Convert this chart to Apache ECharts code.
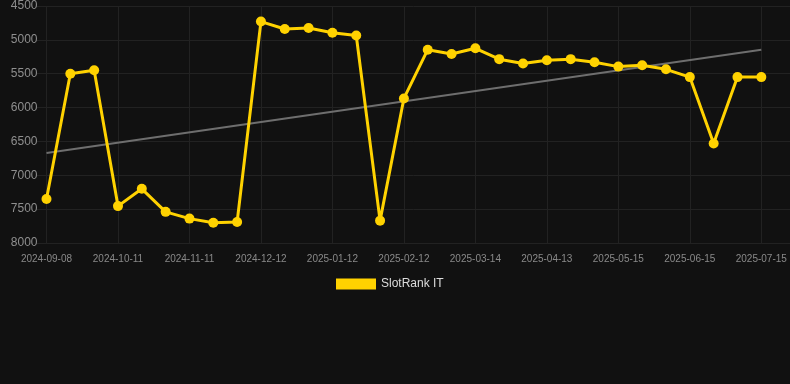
<!DOCTYPE html>
<html>
<head>
<meta charset="utf-8">
<script src="https://cdn.jsdelivr.net/npm/echarts@6/dist/echarts.min.js"></script>
<style>
  html, body { margin: 0; padding: 0; background: #111111; }
  #chart { width: 790px; height: 384px; }
</style>
</head>
<body>
<div id="chart"></div>
<script>
// dates of each rank reading (category axis, every 3rd labelled)
const dates = [
  "2024-09-08", "2024-09-19", "2024-09-30", "2024-10-11", "2024-10-21", "2024-10-31",
  "2024-11-11", "2024-11-21", "2024-12-01", "2024-12-12", "2024-12-22", "2025-01-01",
  "2025-01-12", "2025-01-22", "2025-02-01", "2025-02-12", "2025-02-22", "2025-03-04",
  "2025-03-14", "2025-03-24", "2025-04-03", "2025-04-13", "2025-04-24", "2025-05-04",
  "2025-05-15", "2025-05-25", "2025-06-04", "2025-06-15", "2025-06-25", "2025-07-05",
  "2025-07-15"
];
const rankIT = [
  7350, 5500, 5450, 7455, 7200, 7540, 7640, 7700, 7690, 4730, 4840, 4825,
  4895, 4935, 7670, 5865, 5145, 5210, 5125, 5285, 5350, 5300, 5285, 5330,
  5395, 5375, 5435, 5550, 6530, 5550, 5550
];
const trend = [6670].concat(new Array(29).fill(null), [5145]);
const yMin = 4500;
const yMax = 8000;
const yStep = 500;

const chart = echarts.init(document.getElementById("chart"));
const gridLine = "#222222";
const option = {
  backgroundColor: "#111111",
  animation: false,
  textStyle: { fontFamily: "Liberation Sans, Arial, sans-serif" },
  legend: {
    data: ["SlotRank IT"],
    top: 273,
    left: 331,
    icon: "rect",
    itemWidth: 40,
    itemHeight: 11,
    textStyle: { color: "#dddddd", fontSize: 12 }
  },
  grid: [
    // background grid: full-width horizontal lines
    { left: 37, right: 0, top: 6, bottom: 141 },
    { left: 46.5, right: 28.7, top: 6, bottom: 141 }
  ],
  xAxis: [
    { gridIndex: 0, type: "value", show: false, min: 0, max: 1 },
    {
      gridIndex: 1,
      type: "category",
      data: dates,
      boundaryGap: false,
      axisLine: { show: true, lineStyle: { color: gridLine } },
      axisTick: { show: false },
      axisLabel: { interval: 2, color: "#8a8a8a", fontSize: 10, margin: 11 },
      splitLine: { show: true, interval: 2, lineStyle: { color: gridLine } }
    }
  ],
  yAxis: [
    {
      gridIndex: 0,
      type: "value",
      inverse: true,
      min: yMin,
      max: yMax,
      interval: yStep,
      axisLine: { show: false },
      axisTick: { show: false },
      axisLabel: { show: false },
      splitLine: { show: true, lineStyle: { color: gridLine } }
    },
    {
      gridIndex: 1,
      type: "value",
      inverse: true,
      min: yMin,
      max: yMax,
      interval: yStep,
      axisLine: { show: false },
      axisTick: { show: false },
      axisLabel: {
        color: "#8f8f8f",
        fontSize: 12,
        margin: 9,
        formatter: (v) => String(v)
      },
      splitLine: { show: false }
    }
  ],
  series: [
    {
      name: "Trend",
      type: "line",
      xAxisIndex: 1,
      yAxisIndex: 1,
      data: trend,
      connectNulls: true,
      showSymbol: false,
      symbol: "none",
      lineStyle: { color: "#6e6e6e", width: 2 },
      z: 2
    },
    {
      name: "SlotRank IT",
      type: "line",
      xAxisIndex: 1,
      yAxisIndex: 1,
      data: rankIT,
      symbol: "circle",
      symbolSize: 10,
      itemStyle: { color: "#ffd200" },
      lineStyle: { color: "#ffd200", width: 3 },
      z: 3
    }
  ]
};
chart.setOption(option);
</script>
</body>
</html>
